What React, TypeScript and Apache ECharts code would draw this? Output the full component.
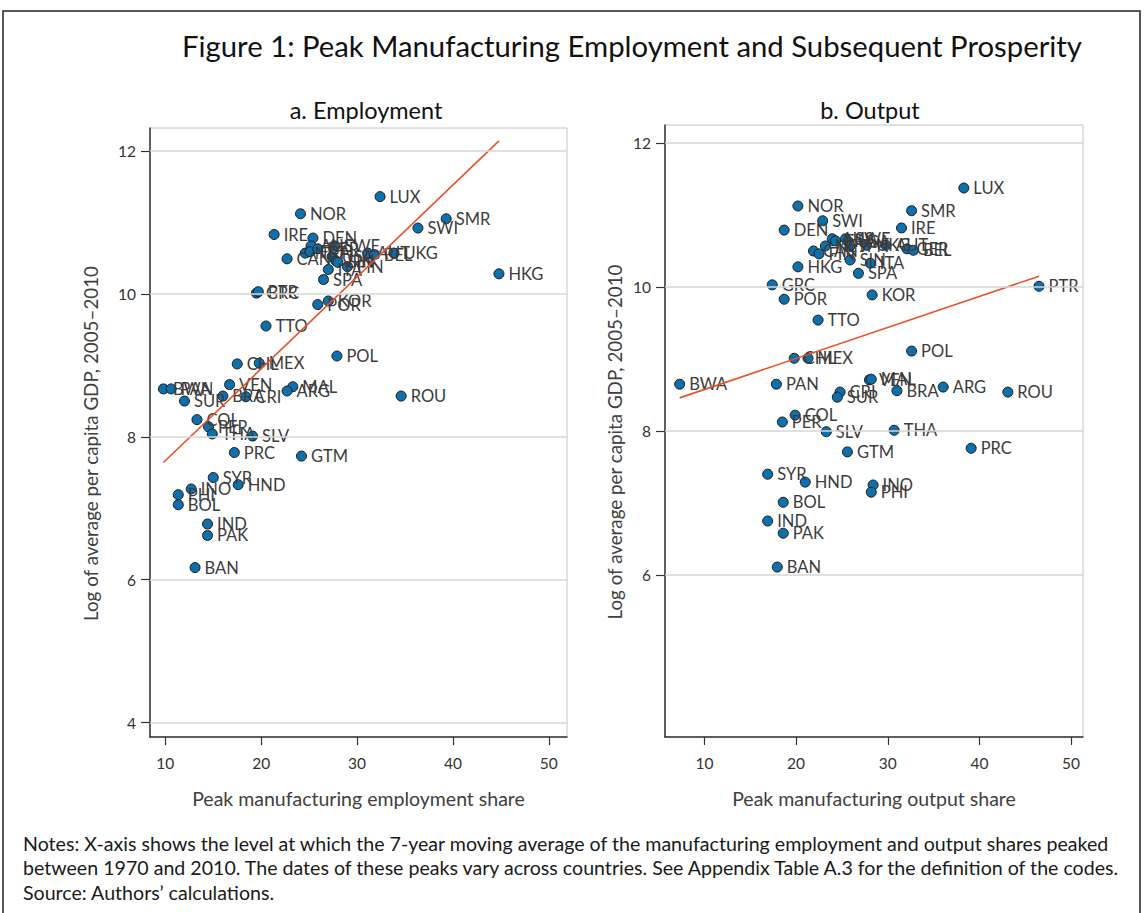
import React, { useEffect, useRef } from "react";
import * as echarts from "echarts";

// ---- Panel a: Employment ----
const codesEmp = ["LUX","NOR","SMR","SWI","IRE","DEN","AUS","SWE","NET","FRA","GER","USA","JPN","SIN","AUT","BEL","UKG","CAN","ITA","FIN","SPA","HKG","GRC","PTR","KOR","POR","TTO","POL","CHL","MEX","BWA","PAN","VEN","MAL","ARG","BRA","CRI","SUR","ROU","COL","PER","THA","SLV","PRC","GTM","SYR","HND","INO","PHI","BOL","IND","PAK","BAN"];
const empShare = [32.4,24.1,39.3,36.35,21.35,25.4,25.2,27.7,24.6,25.1,25.9,27.4,27.8,28.0,31.1,31.8,33.85,22.7,27.0,29.0,26.5,44.8,19.5,19.7,27.0,25.9,20.5,27.9,17.5,19.8,9.8,10.6,16.7,23.3,22.7,16.0,18.4,12.0,34.6,13.3,14.5,14.9,19.1,17.2,24.2,15.0,17.6,12.7,11.35,11.35,14.4,14.4,13.1];
const gdpEmp = [11.36,11.12,11.05,10.92,10.83,10.78,10.67,10.67,10.57,10.59,10.63,10.52,10.46,10.44,10.57,10.55,10.57,10.49,10.34,10.38,10.20,10.28,10.01,10.03,9.90,9.85,9.55,9.13,9.02,9.03,8.67,8.67,8.73,8.70,8.64,8.57,8.56,8.50,8.57,8.24,8.14,8.04,8.01,7.78,7.73,7.43,7.33,7.27,7.19,7.05,6.78,6.62,6.17];
const fitEmp = [[9.8, 7.64], [44.8, 12.14]];

// ---- Panel b: Output ----
const codesOut = ["LUX","NOR","SMR","SWI","IRE","DEN","AUS","FRA","SWE","USA","JPN","UKG","AUT","NET","CAN","FIN","GER","BEL","SIN","ITA","SPA","HKG","GRC","POR","KOR","PTR","TTO","POL","CHL","MEX","BWA","PAN","VEN","MAL","CRI","SUR","BRA","ARG","ROU","COL","PER","SLV","THA","GTM","PRC","SYR","HND","INO","PHI","BOL","IND","PAK","BAN"];
const outShare = [38.3,20.2,32.6,22.9,31.5,18.7,23.95,24.3,25.4,25.7,25.9,27.7,29.8,23.2,21.9,22.5,32.1,32.8,25.9,28.1,26.8,20.2,17.4,18.7,28.3,46.5,22.4,32.6,19.8,21.3,7.3,17.85,28.0,28.2,24.8,24.5,31.0,36.05,43.1,19.9,18.5,23.3,30.7,25.6,39.1,16.9,21.0,28.4,28.2,18.6,16.9,18.6,17.95];
const gdpOut = [11.375,11.125,11.06,10.92,10.82,10.79,10.67,10.64,10.67,10.63,10.57,10.58,10.58,10.57,10.50,10.46,10.53,10.51,10.375,10.33,10.19,10.28,10.03,9.83,9.89,10.01,9.54,9.11,9.01,9.01,8.65,8.65,8.71,8.72,8.54,8.47,8.56,8.61,8.54,8.22,8.125,7.99,8.01,7.71,7.76,7.40,7.29,7.25,7.15,7.01,6.75,6.58,6.11];
const fitOut = [[7.3, 8.46], [46.5, 10.15]];

const xTicks = [10, 20, 30, 40, 50];
const yTicksEmp = [4, 6, 8, 10, 12];
const yTicksOut = [6, 8, 10, 12];

const FONT = "Lato";
const BLUE = "#0f6fab";
const RED = "#e8502a";

function pts(codes: string[], xs: number[], ys: number[]) {
  return codes.map((c, i) => ({ name: c, value: [xs[i], ys[i]] }));
}

export default function App() {
  const ref = useRef<HTMLDivElement>(null);
  useEffect(() => {
    document.body.style.margin = "0";
    const chart = echarts.init(ref.current!, null, { renderer: "svg" });
    const axisX = (idx: number, min: number, max: number, name: string) => ({
      type: "value", gridIndex: idx, min, max,
      name, nameLocation: "middle", nameGap: 51,
      nameTextStyle: { fontFamily: FONT, fontSize: 19.5, color: "#404040" },
      axisLine: { show: true, onZero: false, lineStyle: { color: "#333", width: 1.5 } },
      axisTick: { show: true, length: 8, customValues: xTicks, lineStyle: { color: "#333", width: 1.2 } },
      axisLabel: { customValues: xTicks, margin: 18, fontFamily: FONT, fontSize: 15.5, color: "#333" },
      splitLine: { show: false },
    });
    const axisY = (idx: number, min: number, max: number, ticks: number[], gap: number) => ({
      type: "value", gridIndex: idx, min, max,
      name: "Log of average per capita GDP, 2005\u20132010", nameLocation: "middle", nameGap: gap,
      nameTextStyle: { fontFamily: FONT, fontSize: 18.8, color: "#404040", padding: [0, 22, 0, 0] },
      axisLine: { show: true, onZero: false, lineStyle: { color: "#333", width: 1.5 } },
      axisTick: { show: true, length: 9, customValues: ticks, lineStyle: { color: "#333", width: 1.2 } },
      axisLabel: { customValues: ticks, margin: 14, fontFamily: FONT, fontSize: 15.5, color: "#333" },
      splitLine: { show: false },
    });
    const gridLines = (idx: number, ticks: number[]) => ({
      type: "line", xAxisIndex: idx, yAxisIndex: idx, data: [], z: 1, silent: true,
      markLine: {
        silent: true, symbol: "none", label: { show: false }, animation: false,
        lineStyle: { color: "#d6d6d6", width: 1.5, type: "solid" },
        data: ticks.map((v) => ({ yAxis: v })),
      },
    });
    const scatter = (idx: number, data: any[]) => ({
      type: "scatter", xAxisIndex: idx, yAxisIndex: idx, data, z: 3,
      symbolSize: 10,
      itemStyle: { color: BLUE, borderColor: "#1a1a1a", borderWidth: 1, opacity: 1 },
      label: {
        show: true, position: "right", distance: 4, formatter: "{b}",
        fontFamily: FONT, fontSize: 16.5, color: "#3c3c3c", offset: [0, 2],
      },
      labelLayout: { hideOverlap: false },
    });
    const fit = (idx: number, data: number[][]) => ({
      type: "line", xAxisIndex: idx, yAxisIndex: idx, data, z: 4,
      showSymbol: false, symbol: "none",
      lineStyle: { color: RED, width: 1.6 },
    });
    const noteLines = [
      "Notes: X-axis shows the level at which the 7-year moving average of the manufacturing employment and output shares peaked",
      "between 1970 and 2010. The dates of these peaks vary across countries. See Appendix Table A.3 for the definition of the codes.",
      "Source: Authors\u2019 calculations.",
    ];
    chart.setOption({
      animation: false,
      backgroundColor: "#ffffff",
      textStyle: { fontFamily: FONT },
      grid: [
        { left: 150, top: 128, width: 417, bottom: 176, show: true, borderColor: "#c4c4c4", borderWidth: 1, backgroundColor: "transparent" },
        { left: 665, top: 125, width: 418, bottom: 176, show: true, borderColor: "#c4c4c4", borderWidth: 1, backgroundColor: "transparent" },
      ],
      xAxis: [
        axisX(0, 8.4, 51.9, "Peak manufacturing employment share"),
        axisX(1, 5.7, 51.3, "Peak manufacturing output share"),
      ],
      yAxis: [
        axisY(0, 3.8, 12.32, yTicksEmp, 50),
        axisY(1, 3.75, 12.25, yTicksOut, 41),
      ],
      graphic: [
        { type: "rect", shape: { x: 3, y: 11, width: 1137, height: 920 }, style: { fill: "none", stroke: "#222", lineWidth: 1.5 }, silent: true },
        { type: "text", x: 632, y: 45, style: { text: "Figure 1: Peak Manufacturing Employment and Subsequent Prosperity", fontFamily: FONT, fontSize: 29.3, fill: "#111", textAlign: "center", textVerticalAlign: "middle" } },
        { type: "text", x: 366, y: 110, style: { text: "a. Employment", fontFamily: FONT, fontSize: 23.5, fill: "#111", textAlign: "center", textVerticalAlign: "middle" } },
        { type: "text", x: 870, y: 110, style: { text: "b. Output", fontFamily: FONT, fontSize: 23.5, fill: "#111", textAlign: "center", textVerticalAlign: "middle" } },
        ...noteLines.map((t, i) => ({
          type: "text", x: 23, y: 843 + i * 24.5,
          style: { text: t, fontFamily: FONT, fontSize: 19.6, fill: "#1a1a1a", textAlign: "left", textVerticalAlign: "middle" },
        })),
      ],
      series: [
        gridLines(0, yTicksEmp),
        gridLines(1, yTicksOut),
        scatter(0, pts(codesEmp, empShare, gdpEmp)),
        scatter(1, pts(codesOut, outShare, gdpOut)),
        fit(0, fitEmp),
        fit(1, fitOut),
      ],
    });
    return () => chart.dispose();
  }, []);
  return <div ref={ref} style={{ width: 1144, height: 913 }} />;
}
